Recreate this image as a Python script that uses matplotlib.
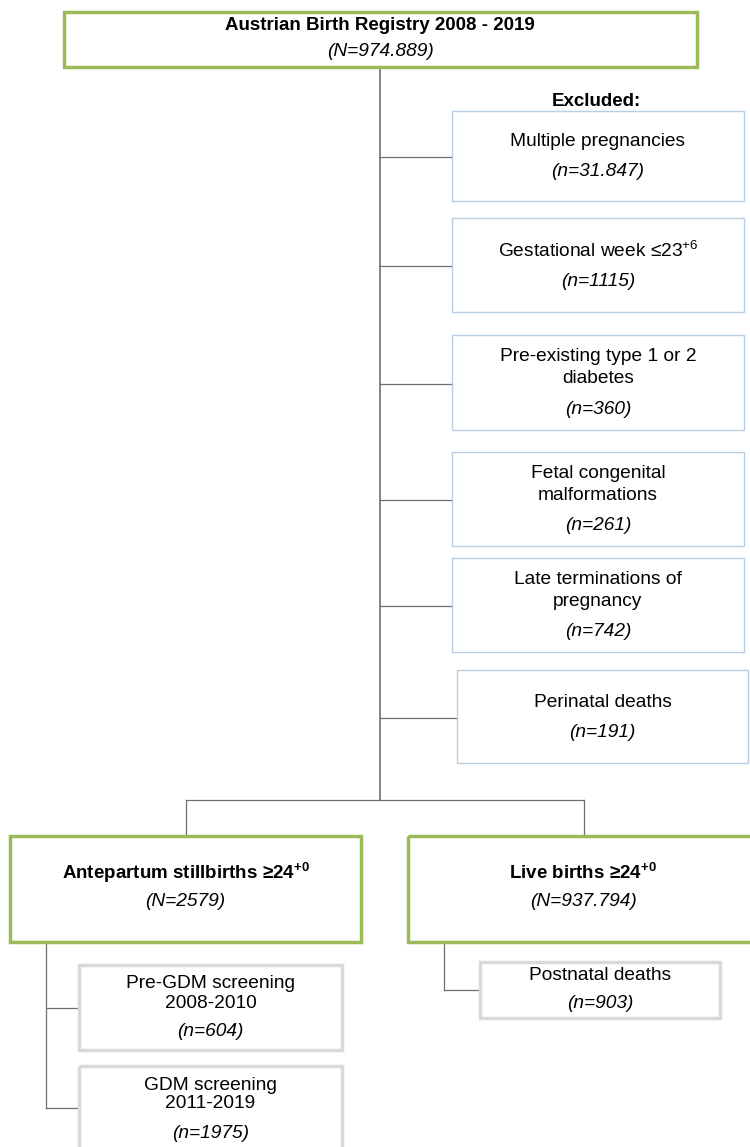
import matplotlib
matplotlib.use("Agg")
import matplotlib.pyplot as plt
from matplotlib.patches import Rectangle

plt.rcParams['font.family'] = ['Liberation Sans', 'DejaVu Sans']
plt.rcParams['mathtext.fontset'] = 'custom'
plt.rcParams['mathtext.rm'] = 'Liberation Sans'
plt.rcParams['mathtext.it'] = 'Liberation Sans:italic'
plt.rcParams['mathtext.bf'] = 'Liberation Sans:bold'

# data
registry_label = "Austrian Birth Registry 2008 - 2019"
registry_n = "(N=974.889)"

excluded_labels = [
    ["Multiple pregnancies"],
    [r"Gestational week ≤23$^{+6}$"],
    ["Pre-existing type 1 or 2", "diabetes"],
    ["Fetal congenital", "malformations"],
    ["Late terminations of", "pregnancy"],
    ["Perinatal deaths"],
]
excluded_n = ["(n=31.847)", "(n=1115)", "(n=360)", "(n=261)", "(n=742)", "(n=191)"]

group_labels = [r"Antepartum stillbirths ≥24$^{\mathbf{+0}}$", r"Live births ≥24$^{\mathbf{+0}}$"]
group_n = ["(N=2579)", "(N=937.794)"]

sub_labels = [["Pre-GDM screening", "2008-2010"], ["GDM screening", "2011-2019"]]
sub_n = ["(n=604)", "(n=1975)"]
post_label = "Postnatal deaths"
post_n = "(n=903)"

green = "#9bbb59"
blue = "#b9cde5"
grey = "#d9d9d9"
line = "#6f6f6f"

fig = plt.figure(figsize=(7.5, 11.47), dpi=100)
ax = fig.add_axes([0, 0, 1, 1])
ax.set_xlim(0, 750)
ax.set_ylim(1147, 0)
ax.axis('off')


def box(x0, y0, x1, y1, color, lw):
    ax.add_patch(Rectangle((x0, y0), x1 - x0, y1 - y0, fill=False,
                           edgecolor=color, linewidth=lw, zorder=2))


def seg(xs, ys, lw=0.9):
    ax.plot(xs, ys, color=line, linewidth=lw, zorder=1)


fs = 13.8
fb = 13.5

# top box
box(64, 12, 697, 67, green, 2.5)
ax.text(380, 25, registry_label, ha='center', va='center', fontsize=fb, fontweight='bold')
ax.text(380, 52, registry_n, ha='center', va='center', fontsize=fs, style='italic')

# trunk
seg([380, 380], [67, 800], lw=1.2)
ax.text(596, 101, "Excluded:", ha='center', va='center', fontsize=fb, fontweight='bold')

ex_boxes = [(452, 111, 744, 201), (452, 218, 744, 312), (452, 335, 744, 430),
            (452, 452, 744, 546), (452, 558, 744, 652), (457, 670, 748, 763)]
for (x0, y0, x1, y1), lab, n in zip(ex_boxes, excluded_labels, excluded_n):
    box(x0, y0, x1, y1, blue, 1.0)
    cx = (x0 + x1) / 2
    cy = (y0 + y1) / 2
    seg([380, x0], [cy + 1, cy + 1])
    if len(lab) == 1:
        ax.text(cx, cy - 14, lab[0], ha='center', va='center', fontsize=fs)
        ax.text(cx, cy + 16, n, ha='center', va='center', fontsize=fs, style='italic')
    else:
        ax.text(cx, cy - 26, lab[0], ha='center', va='center', fontsize=fs)
        ax.text(cx, cy - 4, lab[1], ha='center', va='center', fontsize=fs)
        ax.text(cx, cy + 27, n, ha='center', va='center', fontsize=fs, style='italic')

# split
seg([186, 584], [800, 800])
seg([186, 186], [800, 836])
seg([584, 584], [800, 836])

grp_boxes = [(10, 836, 361, 942), (408, 836, 752, 942)]
for (x0, y0, x1, y1), lab, n in zip(grp_boxes, group_labels, group_n):
    box(x0, y0, x1, y1, green, 2.5)
    cx = (x0 + 361) / 2 if x0 < 100 else 583
    ax.text(cx, 873, lab, ha='center', va='center', fontsize=fb, fontweight='bold')
    ax.text(cx, 902, n, ha='center', va='center', fontsize=fs, style='italic')

# left children
seg([46, 46], [942, 1108])
sub_boxes = [(79, 965, 342, 1050), (79, 1066, 342, 1152)]
for (x0, y0, x1, y1), lab, n, cy in zip(sub_boxes, sub_labels, sub_n, [1008, 1108]):
    box(x0, y0, x1, y1, grey, 2.5)
    seg([46, x0], [cy, cy])
    cx = (x0 + x1) / 2
    ax.text(cx, y0 + 19, lab[0], ha='center', va='center', fontsize=fs)
    ax.text(cx, y0 + 38, lab[1], ha='center', va='center', fontsize=fs)
    ax.text(cx, y0 + 67, n, ha='center', va='center', fontsize=fs, style='italic')

# right child
seg([444, 444], [942, 990])
seg([444, 480], [990, 990])
box(480, 962, 720, 1018, grey, 2.5)
ax.text(600, 976, post_label, ha='center', va='center', fontsize=fs)
ax.text(600, 1003, post_n, ha='center', va='center', fontsize=fs, style='italic')

fig.savefig("out.png", dpi=100)
